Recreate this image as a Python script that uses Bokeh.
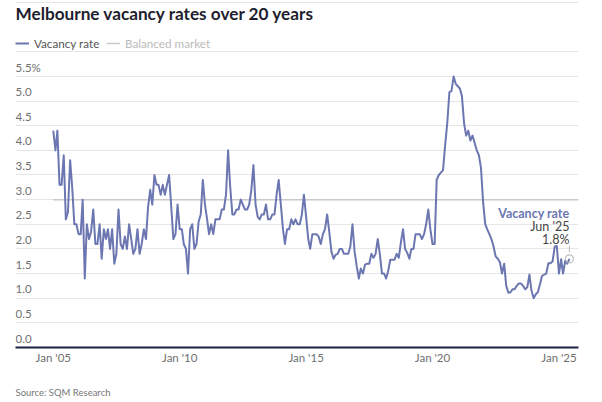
import pandas as pd
from bokeh.plotting import figure
from bokeh.models import Range1d, FixedTicker, Grid, Label, Legend, LegendItem, DatetimeTickFormatter, Title
from bokeh.core.properties import value
from bokeh.embed import file_html
from bokeh.resources import INLINE

title_text = "Melbourne vacancy rates over 20 years"
source_text = "Source: SQM Research"
series_name = "Vacancy rate"
balanced_name = "Balanced market"
start_month = "2005-01-01"
last_period_label = "Jun '25"

vacancy_rate = [
    # 2005
    4.4, 4.0, 4.4, 3.3, 3.3, 3.9, 2.6, 2.75, 3.8, 3.25, 2.5, 2.5,
    # 2006
    2.3, 2.3, 3.0, 1.4, 2.5, 2.2, 2.35, 2.8, 2.1, 2.1, 2.5, 1.8,
    # 2007
    2.4, 2.2, 2.4, 2.0, 2.4, 1.7, 1.9, 2.8, 2.1, 2.0, 2.25, 2.0,
    # 2008
    2.5, 2.2, 1.9, 2.0, 2.4, 1.9, 2.1, 2.4, 2.2, 2.85, 3.2, 2.9,
    # 2009
    3.5, 3.3, 3.3, 3.1, 3.3, 3.1, 3.3, 3.5, 2.85, 2.2, 2.3, 2.9,
    # 2010
    2.4, 2.4, 2.1, 2.0, 1.5, 2.4, 2.5, 2.0, 2.1, 2.55, 2.7, 3.4,
    # 2011
    2.9, 2.6, 2.3, 2.5, 2.3, 2.6, 2.6, 2.6, 2.8, 2.8, 3.1, 4.0,
    # 2012
    3.25, 2.7, 2.7, 2.8, 2.8, 3.0, 2.9, 2.8, 2.8, 2.9, 3.2, 3.7,
    # 2013
    2.9, 2.65, 2.6, 2.7, 2.7, 2.9, 2.6, 2.6, 2.7, 2.7, 3.1, 3.4,
    # 2014
    2.9, 2.4, 2.1, 2.4, 2.4, 2.6, 2.5, 2.6, 2.5, 2.5, 2.7, 3.1,
    # 2015
    2.65, 2.2, 2.0, 2.3, 2.3, 2.3, 2.25, 2.1, 2.3, 2.4, 2.7, 2.35,
    # 2016
    1.95, 1.8, 1.88, 1.9, 2.0, 2.0, 1.9, 1.9, 1.9, 2.05, 2.5, 1.95,
    # 2017
    1.65, 1.4, 1.6, 1.5, 1.68, 1.7, 1.7, 1.9, 1.82, 1.9, 2.2, 1.9,
    # 2018
    1.5, 1.5, 1.4, 1.55, 1.78, 1.78, 1.78, 1.9, 1.82, 2.13, 2.4, 2.0,
    # 2019
    1.92, 1.8, 2.0, 2.0, 2.3, 2.3, 2.3, 2.2, 2.3, 2.5, 2.8, 2.4,
    # 2020
    2.1, 2.1, 3.4, 3.5, 3.55, 3.6, 4.1, 4.55, 5.18, 5.2, 5.5, 5.35,
    # 2021
    5.3, 5.25, 5.1, 4.55, 4.3, 4.4, 4.2, 4.3, 4.15, 4.0, 3.9, 3.65,
    # 2022
    2.95, 2.5, 2.4, 2.3, 2.2, 2.05, 1.85, 1.8, 1.73, 1.5, 1.7, 1.25,
    # 2023
    1.11, 1.12, 1.18, 1.18, 1.25, 1.3, 1.3, 1.25, 1.18, 1.22, 1.48, 1.15,
    # 2024
    1.0, 1.08, 1.12, 1.28, 1.45, 1.48, 1.5, 1.71, 1.71, 1.75, 2.05, 2.06,
    # 2025
    1.5, 1.79, 1.5, 1.76, 1.7, 1.8,
]
balanced_level = 3.0

x_tick_dates = ["2005-01-01", "2010-01-01", "2015-01-01", "2020-01-01", "2025-01-01"]
x_tick_labels = ["Jan '05", "Jan '10", "Jan '15", "Jan '20", "Jan '25"]
y_ticks = [0.0, 0.5, 1.0, 1.5, 2.0, 2.5, 3.0, 3.5, 4.0, 4.5, 5.0, 5.5]
y_tick_labels = ["0.0", "0.5", "1.0", "1.5", "2.0", "2.5", "3.0", "3.5", "4.0", "4.5", "5.0", "5.5%"]

LINE = "#6c77b1"
GRID = "#e6e6e6"
LABEL = "#6f6f6f"
FONT = "Lato"

dates = pd.date_range(start_month, periods=len(vacancy_rate), freq="MS")
x_start = pd.Timestamp("2003-07-05")
x_end = pd.Timestamp("2025-10-10")

p = figure(width=600, height=400, x_axis_type="datetime", y_axis_location=None,
           x_range=Range1d(x_start, x_end), y_range=Range1d(0, 7.04),
           output_backend="svg", toolbar_location=None,
           min_border_left=15, min_border_right=22, min_border_top=0, min_border_bottom=0)
p.outline_line_color = None
p.background_fill_color = "white"
p.border_fill_color = "white"
p.xgrid.visible = False

p.add_layout(Grid(dimension=1, ticker=FixedTicker(ticks=y_ticks[1:]),
                  grid_line_color=GRID, grid_line_width=1))

tick_ms = [float(pd.Timestamp(d).value // 10**6) for d in x_tick_dates]
p.xaxis.ticker = FixedTicker(ticks=tick_ms)
p.xaxis.formatter = DatetimeTickFormatter(days="%b '%y", months="%b '%y", years="%b '%y")
p.xaxis.major_label_overrides = {t: l for t, l in zip(tick_ms, x_tick_labels)}
p.xaxis.axis_line_color = "#1c2040"
p.xaxis.axis_line_width = 2
p.xaxis.major_tick_line_color = None
p.xaxis.minor_tick_line_color = None
p.xaxis.major_tick_out = 0
p.xaxis.major_tick_in = 0
p.xaxis.minor_tick_out = 0
p.xaxis.major_label_standoff = 3
p.xaxis.major_label_text_font = FONT
p.xaxis.major_label_text_font_size = "11.5px"
p.xaxis.major_label_text_color = LABEL

bal_r = p.line(x=[dates[0], x_end], y=[balanced_level, balanced_level],
               line_color="#c9c9c9", line_width=1.5)
line_r = p.line(x=dates, y=vacancy_rate, line_color=LINE, line_width=2, line_join="round")

p.text(x=[x_start] * len(y_ticks), y=y_ticks, text=y_tick_labels,
       text_font=value(FONT), text_font_size="11.5px", text_color=LABEL,
       text_align="left", text_baseline="alphabetic", y_offset=-9)

last_date = dates[-1]
last_val = vacancy_rate[-1]
p.segment(x0=[last_date], y0=[last_val + 0.13], x1=[last_date], y1=[last_val + 0.27],
          line_color="#bdbdbd", line_width=1)
p.scatter(x=[last_date], y=[last_val], marker="circle", size=8,
          fill_alpha=0, line_color="#bdbdbd", line_width=1.2)
p.text(x=[last_date], y=[last_val], text=[f"{last_val:.1f}%"], text_font=value(FONT),
       text_font_size="12.5px", text_color="#444444", text_align="right",
       text_baseline="alphabetic", y_offset=-19)
p.text(x=[last_date], y=[last_val], text=[last_period_label], text_font=value(FONT),
       text_font_size="12.5px", text_color="#444444", text_align="right",
       text_baseline="alphabetic", y_offset=-32)
p.text(x=[last_date], y=[last_val], text=[series_name], text_font=value(FONT),
       text_font_size="12.5px", text_font_style="bold", text_color=LINE, text_align="right",
       text_baseline="alphabetic", y_offset=-45)

leg_common = dict(orientation="horizontal", border_line_color=None, background_fill_alpha=0,
                  padding=0, margin=0, spacing=0, glyph_width=14, glyph_height=14,
                  label_height=14, label_standoff=5, label_text_font=FONT,
                  label_text_font_size="11.7px")
leg1 = Legend(items=[LegendItem(label=series_name, renderers=[line_r])], location=(0, 297),
              label_text_color="#555555", **leg_common)
leg2 = Legend(items=[LegendItem(label=balanced_name, renderers=[bal_r])], location=(91, 297),
              label_text_color="#bbbbbb", **leg_common)
p.add_layout(leg1)
p.add_layout(leg2)

p.add_layout(Label(x=0, y=334, x_units="screen", y_units="screen", text=title_text,
                   text_font=FONT, text_font_size="17.2px", text_font_style="bold",
                   text_color="#1e1e2e", text_baseline="alphabetic"))

# spacer between the axis labels and the source note, then the source note
p.add_layout(Title(text=" ", align="left", text_font=FONT, text_font_size="1px",
                   standoff=13), "below")
p.add_layout(Title(text=source_text, align="left", text_font=FONT, text_font_size="9.5px",
                   text_font_style="normal", text_color="#777777", standoff=5), "below")

open("out.html", "w").write(file_html(p, INLINE))
